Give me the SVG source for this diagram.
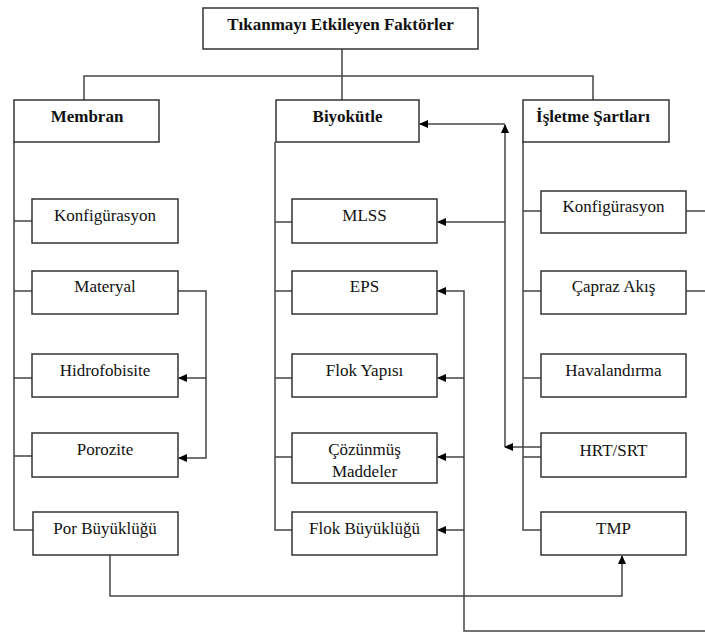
<svg xmlns="http://www.w3.org/2000/svg" width="705" height="633" viewBox="0 0 705 633">
<style>
.box{fill:#fff;stroke:#333;stroke-width:1.5}
.t{font-family:"Liberation Serif","Times New Roman",serif;font-size:17px;fill:#111;text-anchor:middle}
.b{font-weight:bold}
.c{fill:none;stroke:#444;stroke-width:1.5}
</style>
<defs>
<marker id="ah" markerWidth="9" markerHeight="8" refX="8" refY="4" orient="auto" markerUnits="userSpaceOnUse">
<path d="M0,0 L9,4 L0,8 z" fill="#000"/>
</marker>
</defs>
<rect width="705" height="633" fill="#fff"/>
<g id="connectors">
<path class="c" d="M342 49 V100 M84 100 V76 H593 V100"/>
<path class="c" d="M14 142 V530 H33 M14 221 H32 M14 291 H32 M14 378 H32 M14 456 H32"/>
<path class="c" d="M178 291 H206 V458 H179" marker-end="url(#ah)"/>
<path class="c" d="M206 378 H179" marker-end="url(#ah)"/>
<path class="c" d="M110 555 V596 H622 V556" marker-end="url(#ah)"/>
<path class="c" d="M275 142 V530 H292 M275 222 H292 M275 291 H292 M275 378 H292 M275 457 H292"/>
<path class="c" d="M705 631 H464 V291 H438" marker-end="url(#ah)"/>
<path class="c" d="M464 378 H438" marker-end="url(#ah)"/>
<path class="c" d="M464 457 H438" marker-end="url(#ah)"/>
<path class="c" d="M464 530 H438" marker-end="url(#ah)"/>
<path class="c" d="M523 142 V530 H541 M523 211 H541 M523 291 H541 M523 378 H541 M523 457 H541"/>
<path class="c" d="M541 447 H505" marker-end="url(#ah)"/>
<path class="c" d="M505 447 V125" marker-end="url(#ah)"/>
<path class="c" d="M505 124 H420" marker-end="url(#ah)"/>
<path class="c" d="M505 222 H438" marker-end="url(#ah)"/>
<path class="c" d="M686 211 H705 M686 291 H705"/>
</g>
<g id="root"><rect class="box" x="203" y="8" width="275" height="41"/><text class="t b" x="340.5" y="30">Tıkanmayı Etkileyen Faktörler</text></g>
<g id="membran"><rect class="box" x="14" y="100" width="145" height="42"/><text class="t b" x="87" y="122">Membran</text></g>
<g id="biyokutle"><rect class="box" x="276" y="100" width="143" height="42"/><text class="t b" x="347.5" y="122">Biyokütle</text></g>
<g id="isletme"><rect class="box" x="523" y="100" width="146" height="42"/><text class="t b" x="593" y="122">İşletme Şartları</text></g>
<g id="m-konfig"><rect class="box" x="32" y="199" width="146" height="44"/><text class="t" x="105" y="221">Konfigürasyon</text></g>
<g id="m-materyal"><rect class="box" x="32" y="271" width="146" height="43"/><text class="t" x="105" y="292">Materyal</text></g>
<g id="m-hidro"><rect class="box" x="32" y="354" width="146" height="43"/><text class="t" x="105" y="376">Hidrofobisite</text></g>
<g id="m-porozite"><rect class="box" x="32" y="433" width="146" height="44"/><text class="t" x="105" y="455">Porozite</text></g>
<g id="m-por"><rect class="box" x="33" y="512" width="145" height="43"/><text class="t" x="105" y="534">Por Büyüklüğü</text></g>
<g id="b-mlss"><rect class="box" x="292" y="199" width="145" height="44"/><text class="t" x="364.5" y="221">MLSS</text></g>
<g id="b-eps"><rect class="box" x="292" y="271" width="145" height="43"/><text class="t" x="364.5" y="292">EPS</text></g>
<g id="b-flokyapi"><rect class="box" x="292" y="354" width="145" height="43"/><text class="t" x="364.5" y="376">Flok Yapısı</text></g>
<g id="b-cozunmus"><rect class="box" x="292" y="433" width="145" height="50"/><text class="t" x="364.5" y="455">Çözünmüş</text><text class="t" x="364.5" y="477">Maddeler</text></g>
<g id="b-flokbuyuk"><rect class="box" x="292" y="512" width="145" height="43"/><text class="t" x="364.5" y="534">Flok Büyüklüğü</text></g>
<g id="i-konfig"><rect class="box" x="541" y="191" width="145" height="42"/><text class="t" x="613.5" y="212">Konfigürasyon</text></g>
<g id="i-capraz"><rect class="box" x="541" y="271" width="145" height="43"/><text class="t" x="613.5" y="292">Çapraz Akış</text></g>
<g id="i-havalandirma"><rect class="box" x="541" y="354" width="145" height="43"/><text class="t" x="613.5" y="376">Havalandırma</text></g>
<g id="i-hrt"><rect class="box" x="541" y="433" width="145" height="44"/><text class="t" x="613.5" y="456">HRT/SRT</text></g>
<g id="i-tmp"><rect class="box" x="541" y="512" width="145" height="43"/><text class="t" x="613.5" y="534">TMP</text></g>
</svg>
